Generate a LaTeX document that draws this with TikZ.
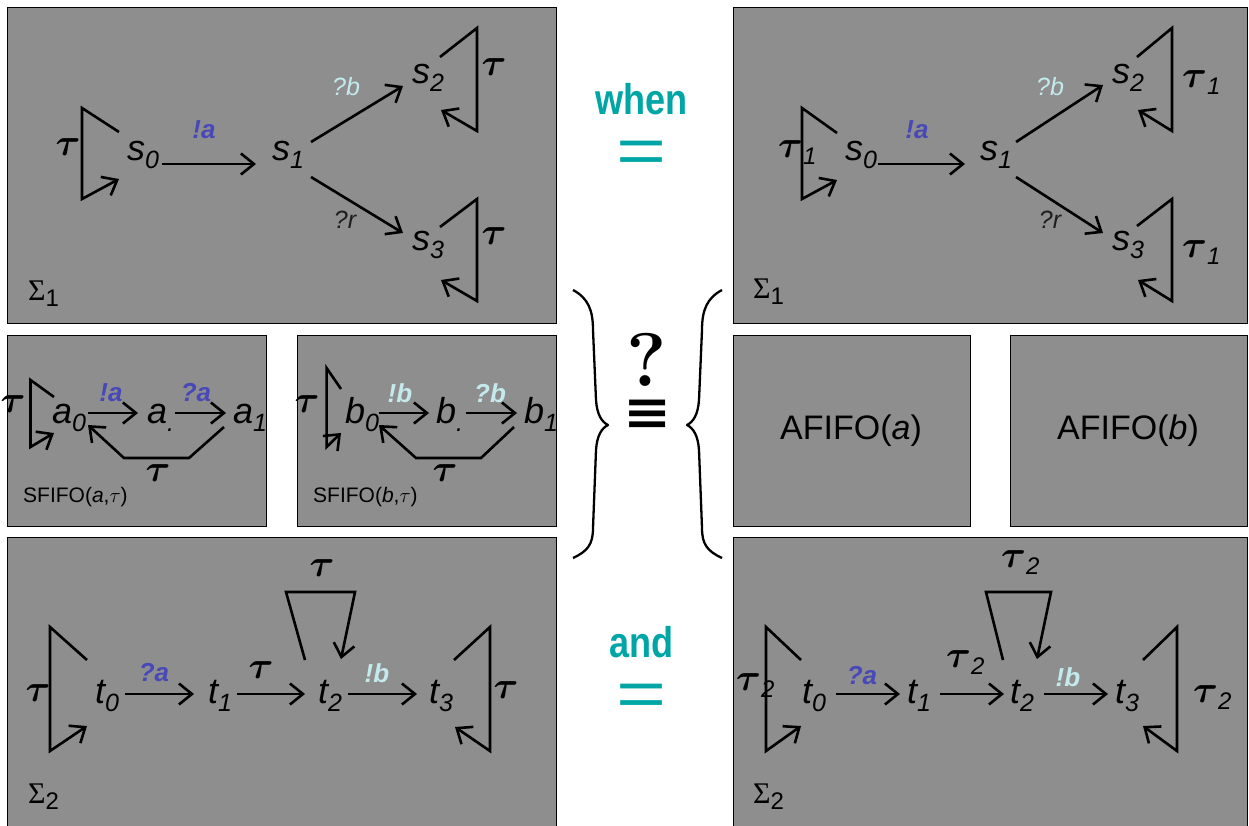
\documentclass[tikz,border=0pt]{standalone}
\usepackage{amsmath}
\usepackage{fontspec}
\newfontfamily\arialf{Liberation Sans}
\newfontfamily\timesf{Liberation Serif}
\newfontfamily\dejaf{DejaVu Sans}
\usetikzlibrary{arrows.meta}
\definecolor{panelgray}{RGB}{142,142,142}
\definecolor{lblblue}{RGB}{72,72,184}
\definecolor{lblcyan}{RGB}{196,234,238}
\definecolor{tealc}{RGB}{0,166,166}
\definecolor{darkc}{RGB}{30,30,30}
\newcommand{\dn}[1]{\raisebox{-8pt}{\fontsize{25}{25}\selectfont #1}}
\newcommand{\tsub}[1]{\raisebox{-7pt}{\arialf\mdseries\itshape\fontsize{24}{24}\selectfont #1}}
\newcommand{\ssub}[1]{\raisebox{-6pt}{\arialf\fontsize{24}{24}\selectfont #1}}
\newcommand{\btau}{\scalebox{3.8}{$\boldsymbol{\tau}$}}
\newcommand{\selfloop}[5]{\draw[arr] ([shift={#2}]#1.base west) -- ([shift={#3}]#1.base west) -- ([shift={#4}]#1.base west) -- ([shift={#5}]#1.base west);}
\tikzset{
  panel/.style={draw=black, line width=1pt, fill=panelgray},
  st/.style={inner sep=0pt, anchor=base west, font=\arialf\itshape\fontsize{36}{40}\selectfont},
  arr/.style={line width=2.6pt, -{Straight Barb[length=13pt,width=21pt]}},
  tau/.style={inner sep=0pt},
  taub/.style={tau, anchor=base west},
  sig/.style={inner sep=0pt, anchor=base west, font=\timesf\fontsize{30}{32}\selectfont},
  lblB/.style={inner sep=0pt, text=lblblue, font=\arialf\bfseries\itshape\fontsize{26}{28}\selectfont},
  lblC/.style={inner sep=0pt, text=lblcyan, font=\arialf\bfseries\itshape\fontsize{26}{28}\selectfont},
  lblCr/.style={inner sep=0pt, text=lblcyan, font=\arialf\itshape\fontsize{25}{28}\selectfont},
  lblD/.style={inner sep=0pt, text=darkc, font=\arialf\itshape\fontsize{25}{28}\selectfont},
  word/.style={inner sep=0pt, anchor=base, text=tealc, font=\arialf\bfseries\fontsize{43}{45}\selectfont},
  eqs/.style={inner sep=0pt, text=tealc, font=\arialf\fontsize{66}{68}\selectfont},
  brace/.style={line width=2.3pt, line join=round},
  fifo/.style={inner sep=0pt, anchor=base west, font=\arialf\fontsize{21}{24}\selectfont},
  afifo/.style={inner sep=0pt, font=\arialf\fontsize{34}{38}\selectfont}
}
\begin{document}
\begin{tikzpicture}[x=1pt,y=-1pt]
\useasboundingbox (0,0) rectangle (1249,825);
\fill[white] (0,0) rectangle (1249,825);
% panels
\draw[panel] (7,7) rectangle (556,323);
\draw[panel] (733,7) rectangle (1247,323);
\draw[panel] (7,335) rectangle (266,526);
\draw[panel] (297,335) rectangle (556,526);
\draw[panel] (733,335) rectangle (970,526);
\draw[panel] (1010,335) rectangle (1247,526);
\draw[panel] (7,537) rectangle (556,830);
\draw[panel] (733,537) rectangle (1247,830);

% ===== top-left Sigma_1 =====
\node[st] (s0) at (127,160) {s\dn{0}};
\node[st] (s1) at (272,160) {s\dn{1}};
\node[st] (s2) at (412,83) {s\dn{2}};
\node[st] (s3) at (412,250) {s\dn{3}};
\draw[arr] ([shift={(35,4)}]s0.base west) -- ([shift={(-16,4)}]s1.base west);
\draw[arr] ([shift={(39,-18)}]s1.base west) -- ([shift={(-9,3)}]s2.base west);
\draw[arr] ([shift={(39,17)}]s1.base west) -- ([shift={(-9,-17)}]s3.base west);
\selfloop{s0}{(-8,-28)}{(-45,-52)}{(-45,39)}{(-8,19)}
\selfloop{s2}{(28,-26)}{(65,-55)}{(65,48)}{(29,27)}
\selfloop{s3}{(28,-23)}{(65,-51)}{(65,51)}{(29,30)}
\node[tau] (tl0) at (68,147) {\btau};
\node[tau] (tl2) at (494,67) {\btau};
\node[tau] (tl3) at (494,236) {\btau};
\node[lblB] (la1) at (204,130) {!a};
\node[lblCr] (lb1) at (346,87) {?b};
\node[lblD] (lr1) at (345,220) {?r};
\node[sig] (sig1) at (28,300) {Σ\ssub{1}};

% ===== top-right Sigma_1 =====
\node[st] (u0) at (845,160) {s\dn{0}};
\node[st] (u1) at (980,160) {s\dn{1}};
\node[st] (u2) at (1112,83) {s\dn{2}};
\node[st] (u3) at (1112,250) {s\dn{3}};
\draw[arr] ([shift={(33,4)}]u0.base west) -- ([shift={(-15,4)}]u1.base west);
\draw[arr] ([shift={(36,-18)}]u1.base west) -- ([shift={(-9,2)}]u2.base west);
\draw[arr] ([shift={(36,17)}]u1.base west) -- ([shift={(-9,-17)}]u3.base west);
\selfloop{u0}{(-8,-27)}{(-43,-52)}{(-43,39)}{(-8,20)}
\selfloop{u2}{(25,-26)}{(60,-55)}{(60,48)}{(26,27)}
\selfloop{u3}{(25,-24)}{(60,-51)}{(60,51)}{(26,30)}
\node[taub] (tr0) at (778,157) {\btau\tsub{1}};
\node[taub] (tr2) at (1182,87) {\btau\tsub{1}};
\node[taub] (tr3) at (1182,257) {\btau\tsub{1}};
\node[lblB] (la2) at (917,130) {!a};
\node[lblCr] (lb2) at (1050,87) {?b};
\node[lblD] (lr2) at (1050,220) {?r};
\node[sig] (sig2) at (753,298) {Σ\ssub{1}};

% ===== SFIFO(a,tau) =====
\node[st] (a0) at (52,423) {a\dn{0}};
\node[st] (am) at (147,423) {a\dn{.}};
\node[st] (a1) at (233,423) {a\dn{1}};
\draw[arr] ([shift={(36,-10)}]a0.base west) -- ([shift={(-9,-10)}]am.base west);
\draw[arr] ([shift={(28,-10)}]am.base west) -- ([shift={(-7,-10)}]a1.base west);
\draw[arr] ([shift={(-9,4)}]a1.base west) -- (189,458) -- (124,458) -- ([shift={(36,2)}]a0.base west);
\selfloop{a0}{(2,-26)}{(-21.5,-43)}{(-21.5,24)}{(2,10)}
\node[tau] (ta0) at (13,404) {\btau};
\node[tau] (ta1) at (158,473) {\btau};
\node[lblB] (la3) at (111,393) {!a};
\node[lblB] (qa3) at (196,393) {?a};
\node[fifo] (sfa) at (23,502) {SFIFO(\textit{a},$\tau$)};

% ===== SFIFO(b,tau) =====
\node[st] (b0) at (345,423) {b\dn{0}};
\node[st] (bm) at (436,423) {b\dn{.}};
\node[st] (b1) at (524,423) {b\dn{1}};
\draw[arr] ([shift={(34,-10)}]b0.base west) -- ([shift={(-7,-10)}]bm.base west);
\draw[arr] ([shift={(30,-10)}]bm.base west) -- ([shift={(-7,-10)}]b1.base west);
\draw[arr] ([shift={(-10,4)}]b1.base west) -- (481,458) -- (416,458) -- ([shift={(34,2)}]b0.base west);
\selfloop{b0}{(-4,-34)}{(-18.4,-55)}{(-18.4,24)}{(-4,10)}
\node[tau] (tb0) at (307,404) {\btau};
\node[tau] (tb1) at (445,473) {\btau};
\node[lblC] (lb3) at (400,393) {!b};
\node[lblC] (qb3) at (490,393) {?b};
\node[fifo] (sfb) at (313,502) {SFIFO(\textit{b},$\tau$)};

% ===== AFIFO =====
\node[afifo] (afa) at (851,431) {AFIFO(\textit{a})};
\node[afifo] (afb) at (1128,431) {AFIFO(\textit{b})};

% ===== bottom-left Sigma_2 =====
\node[st] (t0) at (95,703) {t\dn{0}};
\node[st] (t1) at (208,703) {t\dn{1}};
\node[st] (t2) at (318,703) {t\dn{2}};
\node[st] (t3) at (429,703) {t\dn{3}};
\draw[arr] ([shift={(30,-9)}]t0.base west) -- ([shift={(-14,-9)}]t1.base west);
\draw[arr] ([shift={(29,-9)}]t1.base west) -- ([shift={(-13,-9)}]t2.base west);
\draw[arr] ([shift={(30,-9)}]t2.base west) -- ([shift={(-12,-9)}]t3.base west);
\selfloop{t0}{(-8,-43)}{(-45,-76)}{(-45,48)}{(-8,23)}
\selfloop{t2}{(-13,-43)}{(-32,-111)}{(37,-111)}{(23,-44)}
\selfloop{t3}{(25,-43)}{(61,-76)}{(61,48)}{(26,24)}
\node[tau] (tt0) at (38,693) {\btau};
\node[tau] (tt1) at (261,670) {\btau};
\node[tau] (tt2) at (322,568) {\btau};
\node[tau] (tt3) at (506,690) {\btau};
\node[lblB] (qa4) at (154,673) {?a};
\node[lblC] (lb4) at (377,673) {!b};
\node[sig] (sig3) at (28,803) {Σ\ssub{2}};

% ===== bottom-right Sigma_2 =====
\node[st] (v0) at (802,703) {t\dn{0}};
\node[st] (v1) at (907,703) {t\dn{1}};
\node[st] (v2) at (1010,703) {t\dn{2}};
\node[st] (v3) at (1115,703) {t\dn{3}};
\draw[arr] ([shift={(34,-9)}]v0.base west) -- ([shift={(-7,-9)}]v1.base west);
\draw[arr] ([shift={(33,-9)}]v1.base west) -- ([shift={(-6,-9)}]v2.base west);
\draw[arr] ([shift={(34,-9)}]v2.base west) -- ([shift={(-7,-9)}]v3.base west);
\selfloop{v0}{(-1,-43)}{(-36,-76)}{(-36,48)}{(-1,23)}
\selfloop{v2}{(-7,-43)}{(-24,-111)}{(41,-111)}{(27,-44)}
\selfloop{v3}{(28,-43)}{(62,-76)}{(62,48)}{(28,23)}
\node[taub] (tv0) at (736,690) {\btau\tsub{2}};
\node[taub] (tv1) at (946,667) {\btau\tsub{2}};
\node[taub] (tv2) at (1001,567) {\btau\tsub{2}};
\node[taub] (tv3) at (1193,702) {\btau\tsub{2}};
\node[lblB] (qa5) at (862,676) {?a};
\node[lblC] (lb5) at (1068,677) {!b};
\node[sig] (sig4) at (753,803) {Σ\ssub{2}};

% ===== centre =====
\node[word] (when) at (641.5,114) {\scalebox{0.84}[1]{when}};
\node[eqs] (eq1) at (641.5,157) {\scalebox{1.3}[1]{=}};
\node[word] (and) at (641.5,657) {\scalebox{0.84}[1]{and}};
\node[eqs] (eq2) at (641.5,700.5) {\scalebox{1.3}[1]{=}};
\node[inner sep=0pt, font=\bfseries\fontsize{76}{80}\selectfont] (qm) at (647,360) {?};
\node[inner sep=0pt, font=\dejaf\bfseries\fontsize{50}{52}\selectfont] (equiv) at (647.5,414.5) {\scalebox{1.15}[1]{≡}};
\draw[brace] (573,290) .. controls (588,298) and (593,310) .. (593,330) -- (596,400) .. controls (597,415) and (602,422) .. (608,425) .. controls (602,428) and (597,435) .. (596,450) -- (593,528) .. controls (593,544) and (588,551) .. (573,558);
\draw[brace] (722,290) .. controls (707,298) and (702,310) .. (702,330) -- (699,400) .. controls (698,415) and (693,422) .. (687,425) .. controls (693,428) and (698,435) .. (699,450) -- (702,528) .. controls (702,544) and (707,551) .. (722,558);
\end{tikzpicture}
\end{document}
